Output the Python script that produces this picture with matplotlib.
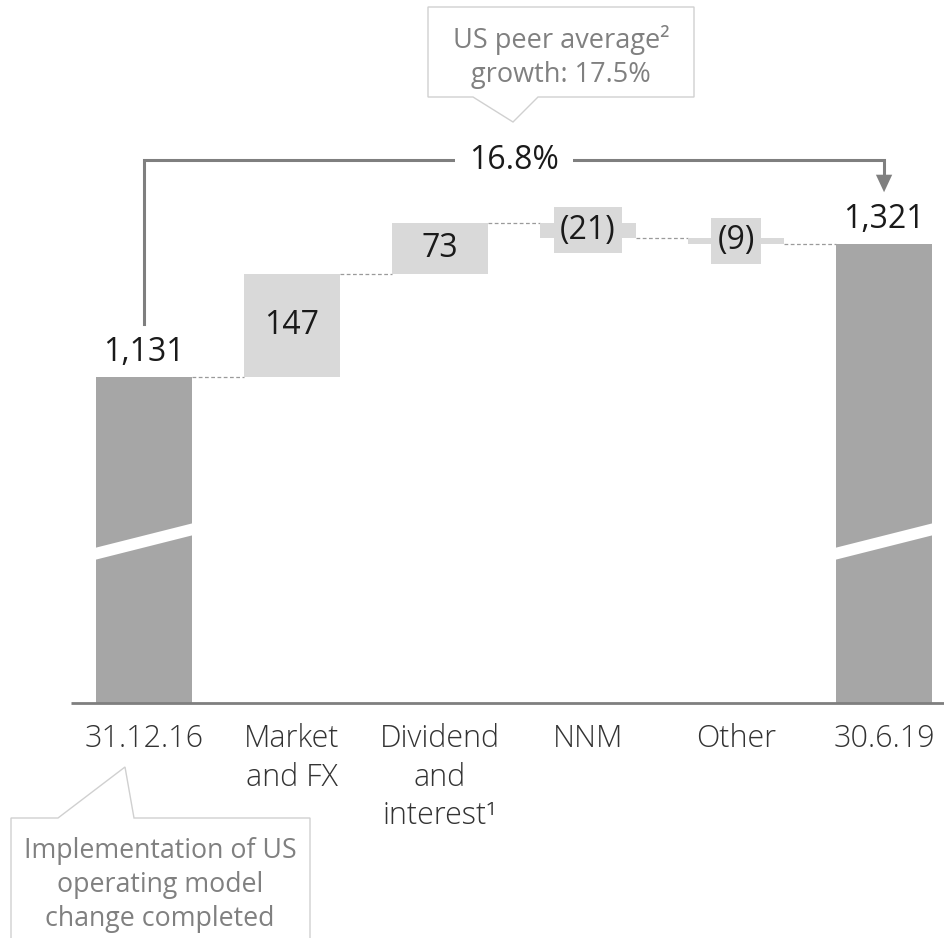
import matplotlib
matplotlib.use("Agg")
import matplotlib.pyplot as plt
from matplotlib.patches import Polygon

plt.rcParams["font.family"] = ["Open Sans", "DejaVu Sans"]

# ---- data -------------------------------------------------------------
categories = ["31.12.16", "Market\nand FX", "Dividend\nand\ninterest¹", "NNM", "Other", "30.6.19"]
start_value = 1131
changes = [147, 73, -21, -9]
end_value = 1321
value_labels = ["1,131", "147", "73", "(21)", "(9)", "1,321"]
growth_label = "16.8%"
peer_note = "US peer average²\ngrowth: 17.5%"
us_note = "Implementation of US\noperating model\nchange completed"

# ---- style ------------------------------------------------------------
TOTAL_C = "#a6a6a6"
DELTA_C = "#d9d9d9"
LINE_C = "#7f7f7f"
NOTE_C = "#808080"
TEXT_C = "#1a1a1a"
W, H = 944, 938
BAR_W = 0.65
AXIS_FLOOR = 665.3          # value where the (broken) axis starts

fig = plt.figure(figsize=(W / 100, H / 100), dpi=100)
ax = fig.add_axes([0, 0, 1, 1])
ax.set_xlim(-0.973, 5.405)
ax.set_ylim(329.6, 1669.6)
ax.axis("off")

# overlay in pixel units for the callout boxes
deco = fig.add_axes([0, 0, 1, 1], zorder=0)
deco.set_xlim(0, W)
deco.set_ylim(H, 0)
deco.axis("off")
ax.set_zorder(1)
ax.patch.set_alpha(0)

x = list(range(len(categories)))

# totals
for xi, v in ((0, start_value), (5, end_value)):
    ax.bar(xi, v - AXIS_FLOOR, bottom=AXIS_FLOOR, width=BAR_W, color=TOTAL_C, zorder=2)
    # axis-break band across the bar
    xl, xr = xi - BAR_W / 2 - 0.01, xi + BAR_W / 2 + 0.01
    band = Polygon([(xl, 886.7), (xr, 922.4), (xr, 905.3), (xl, 869.6)],
                   closed=True, color="white", zorder=3, lw=0)
    ax.add_patch(band)

# changes
level = start_value
levels = [start_value]
for i, d in enumerate(changes, start=1):
    ax.bar(i, d, bottom=level, width=BAR_W, color=DELTA_C, zorder=2)
    level += d
    levels.append(level)

# dashed connectors
for i, lv in enumerate(levels):
    ax.plot([i + BAR_W / 2, i + 1 - BAR_W / 2], [lv, lv], ls=(0, (3, 2)),
            color="#9a9a9a", lw=0.9, zorder=1)

# baseline
ax.plot([-0.49, 5.405], [AXIS_FLOOR, AXIS_FLOOR], color=LINE_C, lw=2, zorder=4,
        solid_capstyle="butt")

# value labels
VAL_FS = 23
ax.text(0, start_value + 12, value_labels[0], ha="center", va="bottom",
        fontsize=VAL_FS, color=TEXT_C)
ax.text(5, end_value + 12, value_labels[5], ha="center", va="bottom",
        fontsize=VAL_FS, color=TEXT_C)
for i, d in enumerate(changes, start=1):
    mid = levels[i - 1] + d / 2
    if d > 0:
        ax.text(i, mid, value_labels[i], ha="center", va="center",
                fontsize=VAL_FS, color=TEXT_C, zorder=5)
    else:
        ax.text(i, mid, value_labels[i], ha="center", va="center",
                fontsize=VAL_FS, color=TEXT_C, zorder=5,
                bbox=dict(boxstyle="square,pad=0.2", fc=DELTA_C, ec="none"))

# category labels
for xi, lab in zip(x, categories):
    ax.text(xi, AXIS_FLOOR - 29, lab, ha="center", va="top", fontsize=22,
            color="#333333", fontweight="light", linespacing=1.26)

# growth bracket with arrow
y_top = 1441
ax.plot([0, 0, 5, 5], [1207, y_top, y_top, 1420], color=LINE_C, lw=2.2,
        zorder=4, solid_joinstyle="miter")
ax.add_patch(Polygon([(5 - 0.055, 1420), (5 + 0.055, 1420), (5, 1395)],
                     closed=True, color=LINE_C, lw=0, zorder=4))
ax.text(2.5, y_top, growth_label, ha="center", va="center", fontsize=VAL_FS,
        color=TEXT_C, zorder=5,
        bbox=dict(boxstyle="square,pad=0.45", fc="white", ec="none"))

# callout: peer growth
deco.add_patch(Polygon([(428, 7), (694, 7), (694, 97), (538, 97), (513, 122),
                        (473, 97), (428, 97)], closed=True, fc="white",
                       ec="#d0d0d0", lw=1))
deco.text(561, 57, peer_note, ha="center", va="center", fontsize=19.5,
          color=NOTE_C, linespacing=1.3)

# callout: US operating model
deco.add_patch(Polygon([(11, 950), (11, 818), (58, 818), (125, 767), (134, 818),
                        (310, 818), (310, 950)], closed=True, fc="white",
                       ec="#d0d0d0", lw=1))
deco.text(160, 885, us_note, ha="center", va="center", fontsize=19.3,
          color=NOTE_C, linespacing=1.3)

fig.savefig("out.png", dpi=100)
